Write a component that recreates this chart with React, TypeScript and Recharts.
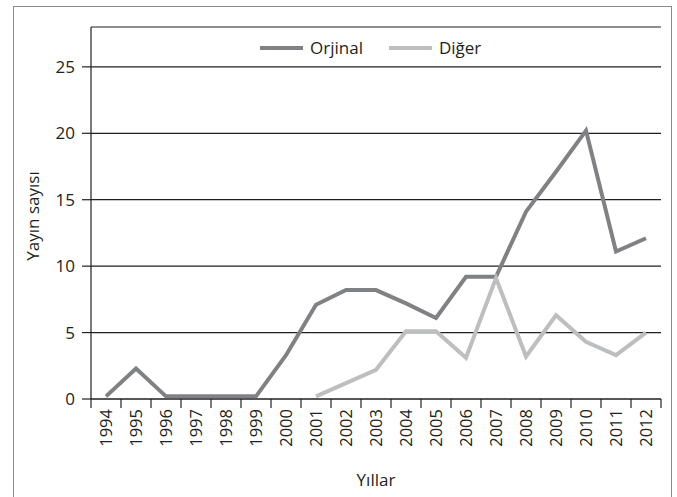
import { LineChart, Line, XAxis, YAxis, CartesianGrid, Legend } from "recharts";

const years = ["1994", "1995", "1996", "1997", "1998", "1999", "2000", "2001", "2002", "2003", "2004", "2005", "2006", "2007", "2008", "2009", "2010", "2011", "2012"];
const orjinal = [0.2, 2.3, 0.2, 0.2, 0.2, 0.2, 3.3, 7.1, 8.2, 8.2, 7.2, 6.1, 9.2, 9.2, 14.1, 17.1, 20.2, 11.1, 12.1];
const diger = [null, null, null, null, null, null, null, 0.2, 1.2, 2.2, 5.1, 5.1, 3.1, 9.1, 3.2, 6.3, 4.3, 3.3, 5.0];
const yTicks = [0, 5, 10, 15, 20, 25];

const data = years.map((y, i) => ({ year: y, orjinal: orjinal[i], diger: diger[i] }));

const INK = "#231f20";
const DARK = "#808184";
const LIGHT = "#bcbec0";
const FONT = "'Open Sans', sans-serif";

function YearTick({ x, y, payload, index, visibleTicksCount }: any) {
  const half = 15;
  const last = index === visibleTicksCount - 1;
  return (
    <g>
      <line x1={x - half} x2={x - half} y1={y - 9} y2={y} stroke={INK} strokeWidth={1.2} />
      {last && <line x1={x + half} x2={x + half} y1={y - 9} y2={y} stroke={INK} strokeWidth={1.2} />}
      <text
        x={x}
        y={y + 1}
        dy="0.36em"
        transform={`rotate(-90 ${x} ${y + 1})`}
        textAnchor="end"
        fill={INK}
        fontSize={16.5}
        fontFamily={FONT}
      >
        {payload.value}
      </text>
    </g>
  );
}

function LegendBox() {
  const items = [
    { name: "Orjinal", color: DARK },
    { name: "Diğer", color: LIGHT },
  ];
  return (
    <div style={{ display: "flex", alignItems: "center", fontFamily: FONT, fontSize: 17, color: INK }}>
      {items.map((it) => (
        <div key={it.name} style={{ display: "flex", alignItems: "center", marginRight: 26 }}>
          <div style={{ width: 43, height: 4, background: it.color, marginRight: 7 }} />
          <span>{it.name}</span>
        </div>
      ))}
    </div>
  );
}

export default function App() {
  return (
    <div>
      <div
        style={{
          position: "absolute",
          left: 13,
          top: 6,
          width: 659,
          height: 520,
          border: "1.5px solid #8a8a8a",
          boxSizing: "border-box",
        }}
      />
      <div style={{ position: "absolute", left: 0, top: 0 }}>
        <LineChart width={677} height={497} data={data} margin={{ top: 27, right: 16, bottom: 0, left: 0 }}>
          <CartesianGrid vertical={false} stroke={INK} strokeWidth={1.2} />
          <XAxis
            dataKey="year"
            height={98}
            padding={{ left: 15, right: 15 }}
            tickLine={false}
            tickSize={9}
            tickMargin={0}
            interval={0}
            axisLine={{ stroke: INK, strokeWidth: 1.2 }}
            tick={<YearTick />}
            label={{
              content: () => (
                <text x={376} y={486} textAnchor="middle" fill={INK} fontSize={17} fontFamily={FONT}>
                  Yıllar
                </text>
              ),
            }}
          />
          <XAxis
            xAxisId="top"
            dataKey="year"
            orientation="top"
            height={0}
            tick={false}
            tickLine={false}
            axisLine={{ stroke: INK, strokeWidth: 1.2 }}
          />
          <YAxis
            width={91}
            domain={[0, 28]}
            ticks={yTicks}
            interval={0}
            tickSize={9}
            tickMargin={7}
            tickLine={{ stroke: INK, strokeWidth: 1.2 }}
            axisLine={{ stroke: INK, strokeWidth: 1.2 }}
            tick={{ fill: INK, fontSize: 17, fontFamily: FONT }}
            label={{
              content: () => (
                <text
                  x={33}
                  y={216}
                  dy="0.36em"
                  transform="rotate(-90 33 216)"
                  textAnchor="middle"
                  fill={INK}
                  fontSize={17}
                  fontFamily={FONT}
                >
                  Yayın sayısı
                </text>
              ),
            }}
          />
          <YAxis
            yAxisId="right"
            orientation="right"
            width={0}
            domain={[0, 28]}
            tick={false}
            tickLine={false}
            axisLine={{ stroke: INK, strokeWidth: 1.2 }}
          />
          <Legend
            layout="horizontal"
            verticalAlign="middle"
            align="center"
            content={<LegendBox />}
            wrapperStyle={{ top: 36, left: 260, width: "auto" }}
          />
          <Line
            type="linear"
            dataKey="orjinal"
            name="Orjinal"
            stroke={DARK}
            strokeWidth={4}
            dot={false}
            activeDot={false}
            isAnimationActive={false}
          />
          <Line
            type="linear"
            dataKey="diger"
            name="Diğer"
            stroke={LIGHT}
            strokeWidth={4}
            dot={false}
            activeDot={false}
            isAnimationActive={false}
          />
        </LineChart>
      </div>
    </div>
  );
}
